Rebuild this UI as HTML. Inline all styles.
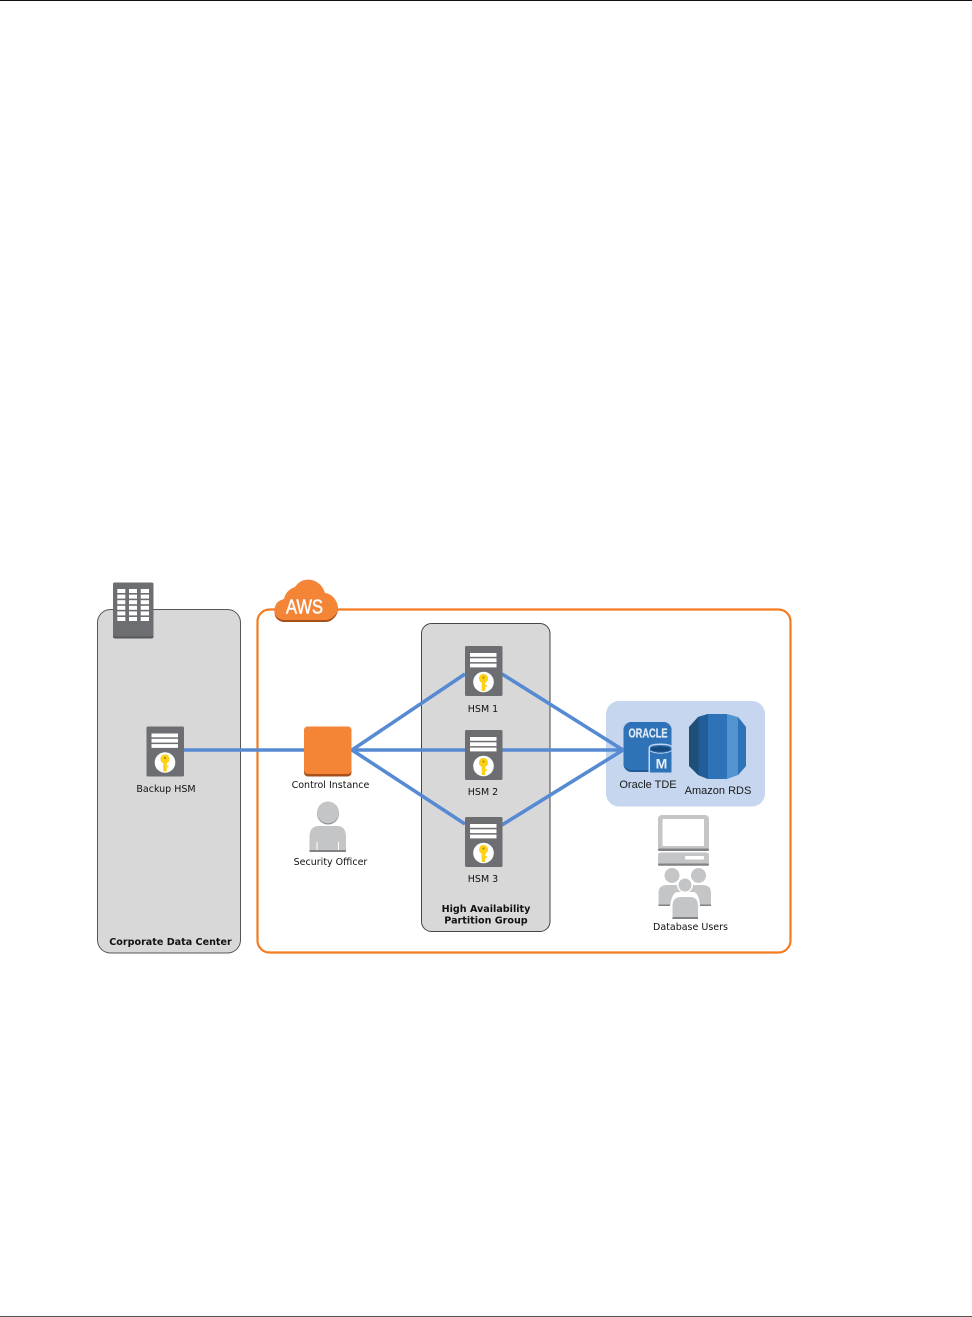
<!DOCTYPE html>
<html><head><meta charset="utf-8"><style>
html,body{margin:0;padding:0;background:#fff}
svg{display:block}
.t{font-family:"DejaVu Sans","Liberation Sans",sans-serif;font-size:9.5px;fill:#111;text-anchor:middle}
.b{font-family:"DejaVu Sans","Liberation Sans",sans-serif;font-size:9.6px;font-weight:bold;fill:#111;text-anchor:middle}
.l{font-family:"Liberation Sans",sans-serif;font-size:11px;fill:#1a1a1a;text-anchor:middle}
</style></head><body>
<svg width="972" height="1317" viewBox="0 0 972 1317" xmlns="http://www.w3.org/2000/svg">
<defs>
<g id="hsm">
<rect x="0" y="0" width="37.500" height="50" rx="1.5" fill="#6d6e71"/>
<rect x="5" y="7" width="26.500" height="3.800" fill="#fff"/>
<rect x="5" y="12.300" width="26.500" height="3.800" fill="#fff"/>
<rect x="5" y="17.600" width="26.500" height="3.800" fill="#fff"/>
<circle cx="18.500" cy="36" r="10.300" fill="#fff"/>
<circle cx="18.500" cy="32.500" r="4.600" fill="#fcd116"/>
<rect x="16.700" y="33" width="3.600" height="12" fill="#fcd116"/>
<rect x="20.300" y="39" width="1.500" height="2" fill="#fcd116"/>
<circle cx="18.500" cy="31.500" r="1" fill="#a08000"/>
</g>
</defs>
<rect width="972" height="1317" fill="#fff"/>
<rect x="0" y="0" width="972" height="1" fill="#111"/>
<rect x="0" y="1316" width="972" height="1" fill="#555"/>

<!-- containers -->
<rect x="97.5" y="609.5" width="143" height="343.5" rx="13" fill="#d8d8d8" stroke="#555" stroke-width="1"/>
<rect x="257.5" y="609.5" width="533" height="343" rx="12" fill="#fff" stroke="#f47b20" stroke-width="2.2"/>
<rect x="421.5" y="623.5" width="128.5" height="308" rx="10" fill="#d8d8d8" stroke="#444" stroke-width="1"/>
<rect x="606" y="701" width="159" height="105.500" rx="13" fill="#c5d6ee"/>

<!-- building -->
<rect x="113" y="582.500" width="40.500" height="56" rx="2" fill="#58595b"/>
<rect x="113" y="582.500" width="40.500" height="54" rx="2" fill="#6d6e71"/>
<g fill="#fff">
<rect x="117.300" y="589" width="8" height="4"/><rect x="129" y="589" width="8" height="4"/><rect x="140.700" y="589" width="8.300" height="4"/>
<rect x="117.300" y="594.600" width="8" height="4"/><rect x="129" y="594.600" width="8" height="4"/><rect x="140.700" y="594.600" width="8.300" height="4"/>
<rect x="117.300" y="600.200" width="8" height="4"/><rect x="129" y="600.200" width="8" height="4"/><rect x="140.700" y="600.200" width="8.300" height="4"/>
<rect x="117.300" y="605.800" width="8" height="4"/><rect x="129" y="605.800" width="8" height="4"/><rect x="140.700" y="605.800" width="8.300" height="4"/>
<rect x="117.300" y="611.400" width="8" height="4"/><rect x="129" y="611.400" width="8" height="4"/><rect x="140.700" y="611.400" width="8.300" height="4"/>
<rect x="117.300" y="617" width="8" height="4"/><rect x="129" y="617" width="8" height="4"/><rect x="140.700" y="617" width="8.300" height="4"/>
</g>

<!-- AWS cloud -->
<path d="M283 622 Q274 620 274.500 611 Q275 602 284 600 Q286 590 295 588 Q301 579 312 581 Q322 584 325 594 Q333 595 337 604 Q340 613 333 619 Q330 622 325 622 Z" fill="#a8501c"/>
<path d="M283 620 Q274 618 274.500 610 Q275 601 284 599 Q286 590 295 587 Q301 578 312 580 Q322 583 325 593 Q333 594 337 603 Q340 612 333 617 Q330 620 325 620 Z" fill="#f58536"/>
<text x="304.500" y="613.500" font-family="Liberation Sans,sans-serif" font-size="20" fill="#fff" stroke="#fff" stroke-width="0.500" text-anchor="middle" textLength="37" lengthAdjust="spacingAndGlyphs">AWS</text>

<!-- connectors -->
<g stroke="#568bd3" stroke-width="3.600" fill="none">
<line x1="184" y1="750" x2="304" y2="750"/>
<line x1="351" y1="750" x2="465" y2="750"/>
<line x1="502" y1="750" x2="623" y2="750"/>
<line x1="352" y1="750" x2="465" y2="674"/>
<line x1="352" y1="750" x2="465" y2="824"/>
<line x1="502" y1="674" x2="623" y2="750"/>
<line x1="502" y1="825" x2="623" y2="750"/>
</g>

<!-- HSMs -->
<use href="#hsm" x="146.500" y="726.500"/>
<use href="#hsm" x="465" y="646"/>
<use href="#hsm" x="465" y="730"/>
<use href="#hsm" x="465" y="817"/>

<!-- control instance -->
<rect x="304" y="726.500" width="47.500" height="50" rx="4" fill="#a8501c"/>
<rect x="304" y="726.500" width="47.500" height="47.500" rx="4" fill="#f58536"/>

<!-- security officer -->
<circle cx="328" cy="813.500" r="11" fill="#808285"/>
<circle cx="328" cy="812.500" r="11" fill="#c4c5c7"/>
<path d="M309.500 852 V837 Q309.500 826 319 826 H337 Q346 826 346 837 V852 Z" fill="#c4c5c7"/>
<rect x="309.500" y="850" width="36.500" height="2" fill="#808285"/>
<rect x="316.500" y="842" width="1" height="8" fill="#fff"/>
<rect x="338" y="842" width="1" height="8" fill="#fff"/>

<!-- oracle -->
<rect x="623.500" y="722" width="48" height="50" rx="8" fill="#1f5a96"/>
<rect x="623.500" y="722" width="48" height="48" rx="8" fill="#2e73b8"/>
<text x="648" y="737.500" font-family="Liberation Sans,sans-serif" font-size="13" font-weight="bold" fill="#dce8f5" stroke="#dce8f5" stroke-width="0.300" text-anchor="middle" textLength="39" lengthAdjust="spacingAndGlyphs">ORACLE</text>
<path d="M648.500 748 Q648.500 743.500 660.500 743.500 Q672.500 743.500 672.500 748 V773.500 H648.500 Z" fill="#c5d6ee"/>
<path d="M650 748 Q650 745 660.500 745 Q671.500 745 671.500 748 V772.500 H650 Z" fill="#2e73b8"/>
<ellipse cx="660.500" cy="749" rx="10" ry="2.800" fill="#174a7c"/>
<path d="M650 751 Q660.500 755.500 671.500 751" fill="none" stroke="#c5d6ee" stroke-width="0.900"/>
<text x="661.500" y="768.500" font-family="Liberation Sans,sans-serif" font-size="14" font-weight="bold" fill="#e8f0f8" text-anchor="middle">M</text>

<!-- RDS -->
<path d="M708 714 L698 717 L689 727 V766 L698 775 L708 779 Z" fill="#1d4f78"/>
<path d="M698.500 716.800 L708 714 V779 L698.500 775.200 Z" fill="#215e99"/>
<rect x="708" y="714" width="19" height="65" fill="#2e73b8"/>
<path d="M727 714 L738 717 L746 727 V766 L738 775 L727 779 Z" fill="#5294cf"/>
<path d="M738 717 L746 727 V766 L738 775 Z" fill="#2e73b8"/>

<!-- computer -->
<rect x="658" y="815" width="51" height="36" rx="4" fill="#c4c5c7"/>
<rect x="658" y="848.500" width="51" height="2.500" rx="1" fill="#808285"/>
<rect x="662.500" y="819" width="41.500" height="27" rx="1" fill="#fff"/>
<rect x="658" y="852.500" width="51" height="13" rx="2.500" fill="#c4c5c7"/>
<rect x="658" y="863.500" width="51" height="2.200" rx="1" fill="#808285"/>
<rect x="685" y="856" width="19" height="3.500" rx="1" fill="#fff"/>

<!-- users -->
<g fill="#c4c5c7">
<circle cx="672" cy="875.500" r="7.500"/>
<circle cx="698.500" cy="875.500" r="7.500"/>
<path d="M658.500 906 V893 Q658.500 885 667 885 H677 Q685 885 685 893 V906 Z"/>
<path d="M685 906 V893 Q685 885 693 885 H703 Q711 885 711 893 V906 Z"/>
</g>
<rect x="658.500" y="904.500" width="52.500" height="1.500" fill="#808285"/>
<path d="M670 906 Q672 892 678 892 H693 Q699 892 700 906 Z" fill="#fff"/>
<circle cx="685" cy="885" r="8" fill="#fff"/>
<circle cx="685" cy="885" r="6.500" fill="#c4c5c7"/>
<path d="M672.500 919 V906 Q672.500 897 681 897 H690 Q698 897 698 906 V919 Z" fill="#c4c5c7"/>
<rect x="672.500" y="917" width="25.500" height="2" fill="#808285"/>

<!-- labels -->
<text class="t" x="166" y="792">Backup HSM</text>
<text class="t" x="330.500" y="788">Control Instance</text>
<text class="t" x="330.500" y="865">Security Officer</text>
<text class="t" x="483" y="712">HSM 1</text>
<text class="t" x="483" y="795">HSM 2</text>
<text class="t" x="483" y="882">HSM 3</text>
<text class="b" x="170.500" y="945">Corporate Data Center</text>
<text class="b" x="486" y="912">High Availability</text>
<text class="b" x="486" y="923.500">Partition Group</text>
<text class="l" x="648" y="788">Oracle TDE</text>
<text class="l" x="718" y="794">Amazon RDS</text>
<text class="t" x="690.500" y="930">Database Users</text>
</svg>
</body></html>
